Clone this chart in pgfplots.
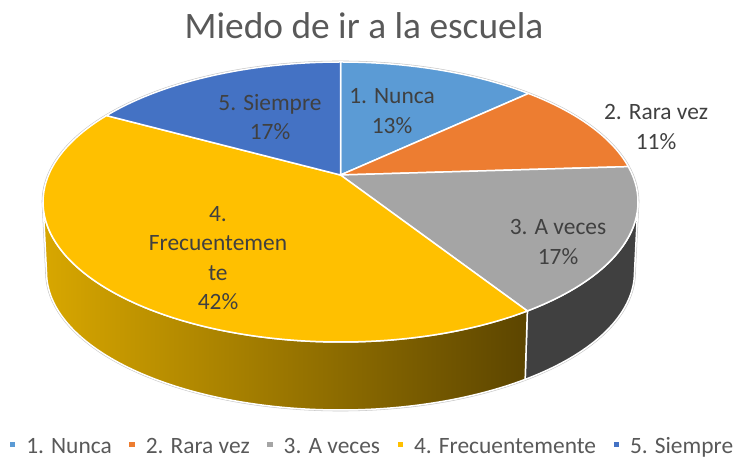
\documentclass[border=0pt]{standalone}
\usepackage{pgfplots}
\pgfplotsset{compat=1.18}
\usepackage{pgfplotstable}
\usepackage{fontspec}
\setmainfont{Carlito}
\definecolor{cA}{HTML}{5B9BD5}
\definecolor{cB}{HTML}{ED7D31}
\definecolor{cC}{HTML}{A5A5A5}
\definecolor{cD}{HTML}{FFC000}
\definecolor{cE}{HTML}{4472C4}
\definecolor{txt}{HTML}{404040}
\definecolor{ttl}{HTML}{595959}
\definecolor{sideG}{HTML}{404040}
\definecolor{sideYL}{HTML}{D8A700}
\definecolor{sideYR}{HTML}{5C4500}

\pgfplotstableread{
pct
13
11
17
42
17
}\piedata

\newcommand\getpct[2]{\pgfplotstablegetelem{#1}{pct}\of\piedata\edef#2{\pgfplotsretval}}
% perspective: circle angle -> parametric angle on the projected ellipse
\newcommand\proj[2]{%
 \pgfmathsetmacro\ps{sin(#1)}%
 \pgfmathsetmacro\pk{cos(#1)}%
 \pgfmathsetmacro\pv{(\ps+\pc)/(1+\pc*\ps)}%
 \pgfmathsetmacro\pu{\pk*sqrt(1-\pc*\pc)/(1+\pc*\ps)}%
 \pgfmathsetmacro#2{atan2(\pv,\pu)}%
}
\newcommand\topslice[3]{%
 \fill[#1, draw=white, line width=1.5bp] (axis cs:\apx,\apy) -- (axis cs:{\cx+\ra*cos(#2)},{\cyT+\rb*sin(#2)}) arc[start angle=#2, end angle=#3, x radius=\ra, y radius=\rb] -- cycle;}
\newcommand\sidepath[2]{%
 (axis cs:{\cx+\ra*cos(#1)},{\cyT+\rb*sin(#1)}) arc[start angle=#1, end angle=#2, x radius=\ra, y radius=\rb] -- (axis cs:{\cx+\raB*cos(#2)},{\cyB+\rbB*sin(#2)}) arc[start angle=#2, end angle=#1, x radius=\raB, y radius=\rbB] -- cycle}

\begin{document}
\begin{tikzpicture}
\getpct{0}\pA \getpct{1}\pB \getpct{2}\pC \getpct{3}\pD \getpct{4}\pE
\def\pc{0.193}
\def\cx{340.5}\def\cyT{257}\def\ra{297.5}\def\rb{140}
\def\cyB{187}\def\raB{294}\def\rbB{138}
\def\apx{340.5}\def\apy{284}
\pgfmathsetmacro\fA{90}
\pgfmathsetmacro\fB{\fA-3.6*\pA}
\pgfmathsetmacro\fC{\fB-3.6*\pB}
\pgfmathsetmacro\fD{\fC-3.6*\pC}
\pgfmathsetmacro\fE{\fD-3.6*\pD}
\proj{\fA}{\tA}\proj{\fB}{\tB}\proj{\fC}{\tC}\proj{\fD}{\tD}\proj{\fE}{\tE}
\pgfmathsetmacro\tEm{\tE-360}
\pgfmathsetmacro\tEnd{90}
\begin{axis}[
  scale only axis, width=736bp, height=459bp,
  xmin=0, xmax=736, ymin=0, ymax=459,
  hide axis, clip=false, disabledatascaling,
  legend columns=-1,
  legend image code/.code={\fill[#1] (0bp,1.5bp) rectangle (5.5bp,6.5bp);},
  legend style={at={(0.5054,0.023)}, anchor=center, draw=none, fill=none,
    font=\fontsize{23.5}{28}\selectfont, text=ttl, inner sep=0pt,
    nodes={inner sep=1bp, text height=15bp, text depth=5bp},
    /tikz/every odd column/.style={column sep=10bp},
    /tikz/every even column/.style={column sep=16.5bp}},
]
% outer silhouette
\draw[gray!45, line width=2.6bp] (axis cs:{\cx+\ra},\cyT) arc[start angle=0, end angle=180, x radius=\ra, y radius=\rb] -- (axis cs:{\cx-\raB},\cyB) arc[start angle=180, end angle=360, x radius=\raB, y radius=\rbB] -- cycle;
% sides
\fill[sideG, draw=white, line width=1.5bp] \sidepath{0}{\tD};
\shadedraw[left color=sideYL, right color=sideYR, draw=white, line width=1.5bp] \sidepath{\tD}{-180};
% top face
\topslice{cA}{\tA}{\tB}
\topslice{cB}{\tB}{\tC}
\topslice{cC}{\tC}{\tD}
\topslice{cD}{\tD}{\tEm}
\topslice{cE}{\tE}{\tEnd}
% labels
\begin{scope}[every node/.style={text=txt, align=center, font=\fontsize{23.5}{29.5}\selectfont}]
\node at (axis cs:392,348) {1. Nunca\\13\%};
\node at (axis cs:656,332) {2. Rara vez\\11\%};
\node at (axis cs:558,217) {3. A veces\\17\%};
\node at (axis cs:218,201) {4.\\Frecuentemen\\te\\42\%};
\node at (axis cs:270,342) {5. Siempre\\17\%};
\end{scope}
\node[text=ttl, font=\fontsize{37.5}{45}\selectfont] at (axis cs:364,433) {Miedo de ir a la escuela};
\addlegendimage{fill=cA, draw=none}\addlegendentry{1. Nunca}
\addlegendimage{fill=cB, draw=none}\addlegendentry{2. Rara vez}
\addlegendimage{fill=cC, draw=none}\addlegendentry{3. A veces}
\addlegendimage{fill=cD, draw=none}\addlegendentry{4. Frecuentemente}
\addlegendimage{fill=cE, draw=none}\addlegendentry{5. Siempre}
\end{axis}
\pgfresetboundingbox
\path (0,0) rectangle (736bp,459bp);
\end{tikzpicture}
\end{document}
